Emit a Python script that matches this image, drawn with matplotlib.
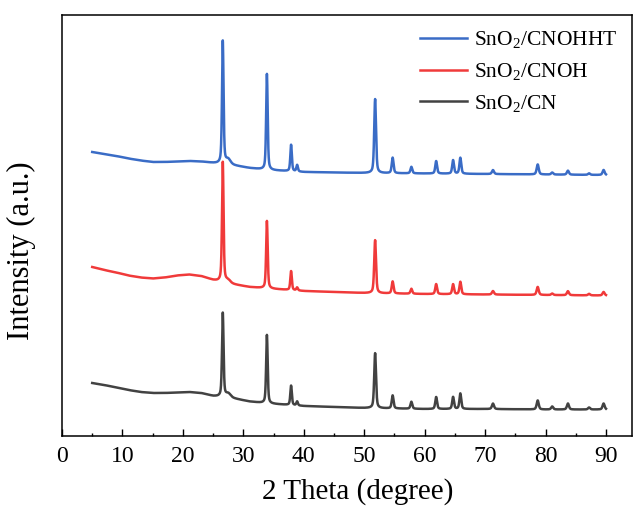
import numpy as np
import matplotlib.pyplot as plt
from matplotlib.ticker import MultipleLocator

plt.rcParams['font.family'] = ['Liberation Serif', 'DejaVu Serif']
plt.rcParams['mathtext.default'] = 'regular'

# samples, top to bottom as stacked in the plot
labels = ['SnO$_2$/CNOHHT', 'SnO$_2$/CNOH', 'SnO$_2$/CN']
colors = ['#3a6cc6', '#f03a3a', '#424242']

# reflection positions (2theta, deg); 27.5 is the broad g-C3N4 (002) shoulder
peak_pos = [26.6, 27.5, 33.9, 37.9, 38.9, 51.8, 54.7, 57.8, 61.9, 64.7,
            65.9, 71.3, 78.7, 81.1, 83.7, 87.2, 89.6]
peak_fwhm = [0.3, 0.9, 0.3, 0.3, 0.3, 0.35, 0.35, 0.35, 0.35, 0.35,
             0.35, 0.4, 0.4, 0.4, 0.4, 0.4, 0.4]

# peak heights above background (a.u.)
h_cnohht = [123, 5, 96, 26.5, 6.5, 74, 15.5, 6.5, 12.5, 13.5, 16, 4, 10, 2, 4, 1.5, 5]
h_cnoh = [120, 3, 67.5, 19, 3, 53, 12, 5, 10, 10, 12.5, 3.5, 8, 1.5, 4, 1.5, 3.5]
h_cn = [84, 4, 68.5, 19.5, 4, 55, 13, 7, 12, 12, 15.5, 5.5, 9, 3, 6, 2, 6]

# background (already stacked with offsets)
bg_x = [5, 7, 9, 11, 13, 15, 17, 19, 21, 23, 25, 28, 31, 34, 40, 50, 60, 70, 80, 90]
bg_cnohht = [284, 282, 280, 277.5, 275.5, 274, 274, 274.5, 275, 274.5, 273, 271, 268, 266, 264, 263, 262.5, 262, 261.5, 261]
bg_cnoh = [169, 166, 163.5, 160.5, 158.5, 157.5, 158.5, 160.5, 161.5, 160, 156, 152, 149, 147.5, 145, 143, 142, 141.5, 141, 140.5]
bg_cn = [53, 51, 48.5, 46, 44, 43, 43, 43.5, 44, 43, 40, 38, 34.5, 32.5, 30, 28, 27, 27, 26.5, 26.5]


def pattern(tt, bg, heights, eta=0.5):
    y = np.interp(tt, bg_x, bg)
    for p, w, h in zip(peak_pos, peak_fwhm, heights):
        hw = w / 2
        lor = 1 / (1 + ((tt - p) / hw) ** 2)
        gau = np.exp(-np.log(2) * ((tt - p) / hw) ** 2)
        y = y + h * (eta * lor + (1 - eta) * gau)
    return y


tt = np.arange(5, 90.001, 0.02)

fig = plt.figure(figsize=(6.33, 5.09), dpi=100)
ax = fig.add_axes([62 / 633, 73 / 509, 570 / 633, 421 / 509])

for bg, h, lab, c in zip([bg_cnohht, bg_cnoh, bg_cn], [h_cnohht, h_cnoh, h_cn], labels, colors):
    ax.plot(tt, pattern(tt, bg, h), color=c, lw=1.8, label=lab)

ax.set_xlim(0, 94.3)
ax.set_ylim(0, 421)
ax.set_yticks([])
ax.xaxis.set_major_locator(MultipleLocator(10))
ax.xaxis.set_minor_locator(MultipleLocator(5))
ax.tick_params(axis='x', which='major', direction='in', length=5, width=1, labelsize=17, pad=7)
ax.tick_params(axis='x', which='minor', direction='in', length=2.5, width=1)
for s in ax.spines.values():
    s.set_linewidth(1.1)

ax.set_xlabel('2 Theta (degree)', fontsize=21)
ax.xaxis.set_label_coords(0.519, -0.1)
ax.set_ylabel('Intensity (a.u.)', fontsize=22)
ax.yaxis.set_label_coords(-0.046, 0.44)

ax.legend(loc='upper right', bbox_to_anchor=(1.008, 1.012), frameon=False,
          fontsize=15.5, handlelength=2.2, handletextpad=0.3, labelspacing=0.5)

fig.savefig('out.png', dpi=100)
